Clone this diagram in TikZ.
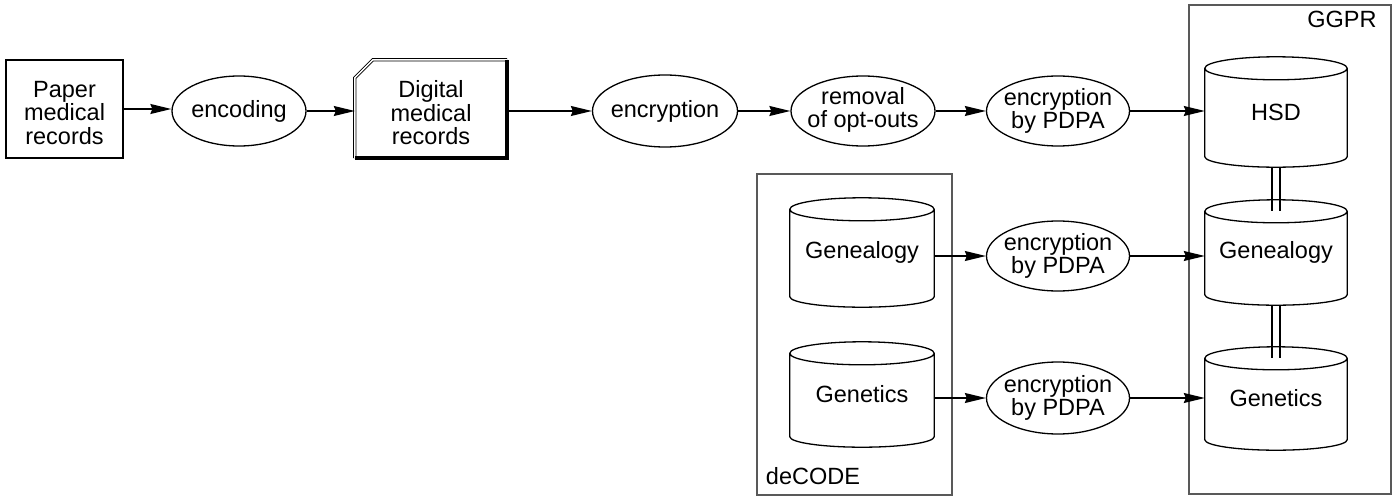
\documentclass[tikz,border=0pt]{standalone}
\usepackage{fontspec}
\setmainfont{Liberation Sans}
\usetikzlibrary{shapes.geometric,arrows.meta,calc}
\tikzset{
  txt/.style={font=\fontsize{23.5}{23.5}\selectfont, align=center, inner sep=0pt},
  boxnode/.style={draw, line width=1.3pt, rectangle, inner sep=0pt},
  ell/.style={txt, draw, line width=1.3pt, ellipse, inner sep=-20pt, minimum width=#1, minimum height=70pt},
  ell/.default=144pt,
  cyl/.style={txt, rectangle, draw=none, minimum width=143pt},
  arr/.style={line width=1.3pt, -{Stealth[length=21pt,width=10pt,inset=2pt]}},
  grp/.style={draw=black!65, line width=1.5pt},
  dline/.style={line width=1.3pt},
}
\newcommand\drawcyl[1]{%
  \draw[line width=1.3pt]
    let \p1=(#1.north west), \p2=(#1.south east), \n1={(\x2-\x1)/2} in
    (\x1,\y1-11.5pt) -- (\x1,\y2+10.5pt) arc[start angle=180,end angle=360,x radius=\n1,y radius=10.5pt]
    -- (\x2,\y1-11.5pt)
    (\x1+\n1,\y1-11.5pt) ellipse[x radius=\n1,y radius=11.5pt];
}
\begin{document}
\begin{tikzpicture}[x=1pt,y=1pt]
\useasboundingbox (0,0) rectangle (1395,499);
% group boxes
\draw[grp] (1189,5) rectangle (1391,494);
\draw[grp] (757,4) rectangle (952,325);
\node[txt, anchor=center] (ggpr) at (1342,480) {GGPR};
\node[txt, anchor=center] (decode) at (813,23) {deCODE};
% top row
\node[boxnode, minimum width=117pt, minimum height=98pt] (paper) at (64.5,390) {};
\node[txt] (paperT) at ([yshift=-4pt]paper.center) {Paper\\medical\\records};
\node[ell=134pt] (enc) at (239,388) {\raisebox{-2pt}{encoding}};
\node[rectangle, inner sep=0pt, minimum width=152pt, minimum height=98pt] (digital) at (431,390) {};
\node[txt] (digitalT) at ([yshift=-4pt]digital.center) {Digital\\medical\\records};
\draw[line width=0.9pt, double, double distance=1.5pt]
  (digital.south west) -- ($(digital.north west)+(0,-18)$) -- ($(digital.north west)+(18,0)$)
  -- (digital.north east);
\draw[line width=4pt, line cap=square] (digital.north east) -- (digital.south east) -- (digital.south west);
\node[ell=145pt, minimum height=72pt] (encr) at (665,388) {\raisebox{-2pt}{encryption}};
\node[ell=144pt] (rem) at (863,388) {\raisebox{-2pt}{\begin{tabular}{@{}c@{}}removal\\[-1.5pt]of opt-outs\end{tabular}}};
\node[ell=143pt] (e1) at (1058,388) {encryption\\by PDPA};
% GGPR cylinders
\node[cyl, minimum height=110pt, minimum width=142pt] (hsd) at (1276,387) {\raisebox{-5pt}{HSD}};
\node[cyl, minimum height=105pt, minimum width=142pt] (ggen) at (1276,246.5) {\raisebox{-5pt}{Genealogy}};
\node[cyl, minimum height=103pt, minimum width=142pt] (ggent) at (1276,100.5) {\raisebox{-5pt}{Genetics}};
\drawcyl{hsd}\drawcyl{ggen}\drawcyl{ggent}
% deCODE cylinders
\node[cyl, minimum height=109pt, minimum width=144pt] (dgen) at (862,246.5) {\raisebox{-5pt}{Genealogy}};
\node[cyl, minimum height=105pt, minimum width=144pt] (dgent) at (862,104.5) {\raisebox{-4pt}{Genetics}};
\drawcyl{dgen}\drawcyl{dgent}
\node[ell=143pt] (e2) at (1058,243) {encryption\\by PDPA};
\node[ell=143pt, minimum height=72pt] (e3) at (1058,101) {encryption\\by PDPA};
% connectors
\draw[arr] (paper.east) -- (paper.east -| enc.west);
\draw[arr] (enc.east) -- (enc.east -| digital.west);
\draw[arr] (digital.east |- encr.west) -- (encr.west);
\draw[arr] (encr.east) -- (rem.west);
\draw[arr] (rem.east) -- (e1.west);
\draw[arr] (e1.east) -- (e1.east -| hsd.west);
\draw[arr] (e2.west -| dgen.east) -- (e2.west);
\draw[arr] (e3.west -| dgent.east) -- (e3.west);
\draw[arr] (e2.east) -- (e2.east -| ggen.west);
\draw[arr] (e3.east) -- (e3.east -| ggent.west);
\draw[dline] ([xshift=-4pt]hsd.south) -- ($(ggen.north)+(-4,-11.5)$);
\draw[dline] ([xshift=4pt]hsd.south) -- ($(ggen.north)+(4,-11.5)$);
\draw[dline] ([xshift=-4pt]ggen.south) -- ($(ggent.north)+(-4,-11.5)$);
\draw[dline] ([xshift=4pt]ggen.south) -- ($(ggent.north)+(4,-11.5)$);
\end{tikzpicture}
\end{document}
